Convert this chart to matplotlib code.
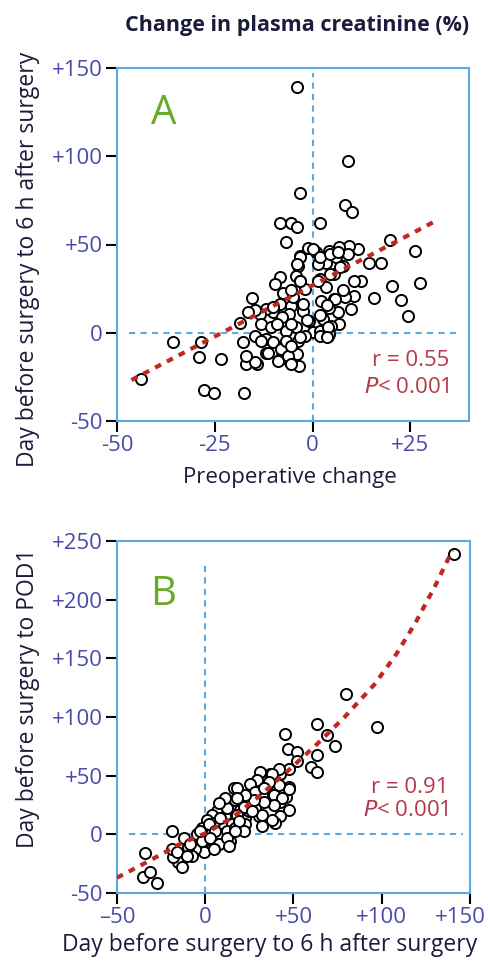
import matplotlib
matplotlib.use("Agg")
import matplotlib.pyplot as plt
from matplotlib.transforms import ScaledTranslation

plt.rcParams["font.family"] = ["Open Sans", "DejaVu Sans"]

# panel A: preoperative change vs day before surgery -> 6 h after surgery
a_x = [-4.1, 9.0, -3.2, 8.4, 10, -8.3, -5.5, -4.0, 1.8, -6.7, 19.8, 26.2, 27.5, 20.2, 22.6, 24.5,
       15.7, 17.5, 14.5, 12.5, 11.7, 9.4, 10.6, 9.8, 6.7, -15.4, -18.6, -17.7, -35.7, -28.4, -29.0,
       -23.3, -43.8, -27.8, -25.3, -17.6, -3.4, -4.1, -16.9, -14.3, -11.8, -8.4, -5.8, -12.9, -8.4,
       -9.6,
       -3.3, -1.2, 0.9, 4.3, 6.7, 9.0, 6.0, 3.5, 1.4, -3.7, -4.2, -7.6, -3.3, -2.0, 1.8, 3.5, 5.6,
       7.7, 10.7, 5.6, 8.2, 6.5, 4.3, 2.2, 2.6, 4.8, -0.8, -2.5, -5.4, -5.0, -8.4, -10.1, -11.8,
       -13.5, -14.8, -16.5, -13.1, -10.5, -7.1, -5.9, -4.2, -6.7, 0.1, 1.8, 3.9, -2.0, -11.8, -14.8,
       -13.1, -11.4, -14.8, -16.9, -10.1, -8.0, -8.9, -6.3, -5.4, -6.7, -3.7, -5.4, 1.8, 4.3,
       0.2, 1.9, 4.4, 6.6, 7.0, 4.4, 1.5, 7.8, 5.7, 3.6, 1.9, 4.0, 3.6, -3.2, -4.1, -3.2, -5.4,
       -2.4, -1.5, -5.4, -7.9, -3.2, -10.1, -9.2]
a_y = [139.4, 97.5, 79.2, 72.5, 68.3, 62.3, 62.3, 59.8, 62.3, 51.3, 52.3, 46.2, 28.3, 26.4, 18.7, 9.4,
       19.6, 39.4, 39.8, 29.6, 47.4, 49.2, 20.6, 13.6, 5.1, 19.6, 5.5, -5.3, -5.3, -5.3, -13.8,
       -15.1, -26.4, -32.3, -34.2, -34.2, -19.1, -11.9, -17.9, -17.5, -11.5, -15.1, -16.6, -4.3, 31.5,
       27.7,
       43.6, 48, 45.5, 46.5, 48.7, 44.6, 42.7, 39.8, 38.9, 38, 32.3, 22.8, 29.5, 24.8, 30.4, 25.7, 33.3,
       38.0, 29.5, 19.1, 20, 11.5, 14.3, 18.1, 7.8, 4, 6.8, 12.5, 15.3, 20, 16.3, 11.5, 13.4,
       10.6, 12.9, 11.5, 4.9, 3, 6.8, 10.6, 3, 1.1, 0.2, 1.1, -1.7, -1.7, -3.6, -1.7,
       -4.5, -11.2, -16.8, -13, -5.5, -9.2, -15.9, -13, -17.7, -4.5, -4.5, -7.4, -1.7, -0.7,
       47.5, 42.8, 44.7, 45.7, 37.2, 33.4, 29.6, 24, 19.2, 15.5, 9.8, 3.2, -2.5, 42.8, 39, 29.6, 24,
       16.4, 7, 5.1, 8.9, -2.5, 14.5, 5.1]
a_fit_x = [-46.3, 31.1]
a_fit_y = [-26.8, 62.9]

# panel B: 6 h after surgery vs POD1
b_x = [97.5, 63.1, 45.1, 68.7, 73.3, 46.8, 52.1, 52.1, 63.1, 59.7, 63.1, 47.4, 47.4, 47.4, 42.6, 39.8,
       42.6, 38.8, 45.5, 38.8, 42.6, 36.9, 31.3, 29.4, 35.1, 32.2, 26.5, 23.7, 28.4, 30.3, 22.7, 24.6,
       19.9, 19.9, 16.1, 12.3, 9.5, 6.6, 3.8, 0.9, 4.7, 11.4, 15.2, 19.9, 14.2, 8.5, 5.7, 12.3,
       -1.9, -4.7, -0.9, -0.9, -5.7, -9.5, -12.3, -12.3, -15.2, -18, -18.9, -18.9, -16.1, -7.6,
       -34.1, -35.0, -31.3, -27.5,
       79.5, 41.7, 37.9, 47.3, 41.7, 36, 29.4, 25.6, 28.4, 33.1, 43.6, 37.9, 32.2, 38.8, 33.1, 27.4,
       22.7, 18, 17, 21.8, 26.5, 18, 22.7, 32.2, 17,
       -13.2, -10.4, -8.5, -1.9, -2.8, 1.9, 5.7, 2.8, 7.6, 12.3, 13.3, 4.7, 8.5, 12.3, 18, 11.4,
       7.6, 18.9, 21.8, 17, 141]
b_y = [91.6, 94.4, 85.8, 84.4, 75.4, 72.6, 70.4, 62.8, 67.9, 57.3, 53.1, 56, 40.5, 20.9, 15.3, 9.7,
       27.9, 33.5, 32.1, 45.9, 51.5, 51.5, 53, 43.2, 41.8, 33.5, 36.3, 27.9, 22.3, 15.3, 13.9, 19.5,
       20.9, 30.7, 39.7, 27.9, 25.1, 19.5, 16.8, 12.6, 9.8, 15.3, 8.4, 5.6, -5.6, 0, -11.2, 2.8,
       5.6, 0, -5.6, -15.4, -12.6, -11.2, -2.8, -19.6, -23.8, -19.6, -12.6, 2.8, -15.4, -18.2,
       -16.2, -36.3, -32.1, -41.3,
       119.5, 55.3, 51.6, 39, 41.9, 44.7, 46.1, 43.3, 36.3, 39.1, 30.7, 12.6, 16.8, 25.1, 27.9, 29.3,
       33.5, 39.1, 29.3, 23.7, 19.5, 16.8, 8.4, 7, 5.6,
       -28, -18.2, -8.4, -5.6, 2.8, 8.4, 2.8, -2.8, -8.4, -2.8, -9.8, -12.6, 13.9, 22.3, 30.7, 30.7,
       26.5, 11.2, 2.8, 2.8, 239]
b_fit_x = [-50, -31, -14, 1, 16, 31, 46, 62, 79, 96, 108, 119, 130, 140]
b_fit_y = [-37, -22, -8, 1.5, 15, 33, 53, 75, 100, 128, 153, 180, 211, 242]

a_xticks = [-50, -25, 0, 25]
a_xlabels = ["-50", "-25", "0", "+25"]
a_yticks = [-50, 0, 50, 100, 150]
a_ylabels = ["-50", "0", "+50", "+100", "+150"]
b_xticks = [-50, 0, 50, 100, 150]
b_xlabels = ["\u201350", "0", "+50", "+100", "+150"]
b_yticks = [-50, 0, 50, 100, 150, 200, 250]
b_ylabels = ["-50", "0", "+50", "+100", "+150", "+200", "+250"]

spine_col = "#5aaae6"
tick_col = "#4a4aa8"
navy = "#1b1b3c"
red = "#c0281e"
stat_col = "#b33a4c"
green = "#6aaa2a"

W, H = 489, 965
fig = plt.figure(figsize=(W / 100, H / 100), dpi=100)
axA = fig.add_axes([117 / W, 1 - 421 / H, 352 / W, 353 / H])
axB = fig.add_axes([117 / W, 1 - 893 / H, 353 / W, 352 / H])


def style(ax, xt, xl, yt, yl):
    for s in ax.spines.values():
        s.set_color(spine_col)
        s.set_linewidth(1.5)
    ax.set_xticks(xt)
    ax.set_xticklabels(xl)
    ax.set_yticks(yt)
    ax.set_yticklabels(yl)
    ax.tick_params(direction="out", length=8, width=1.5, color="black",
                   labelcolor=tick_col, labelsize=16, pad=2)


def scatter(ax, x, y):
    ax.plot(x, y, "o", ms=8, mfc="white", mec="black", mew=1.4, ls="none", zorder=3)


# panel A
axA.plot([0, 0], [-50, 147], ls=(0, (3, 2.5)), color=spine_col, lw=1.5, zorder=1)
axA.plot([-47, 37], [0, 0], ls=(0, (3, 2.5)), color=spine_col, lw=1.5, zorder=1)
scatter(axA, a_x, a_y)
axA.plot(a_fit_x, a_fit_y, ls=(0, (1.6, 1.6)), color=red, lw=3, zorder=4)
axA.set_xlim(-50, 40)
axA.set_ylim(-50, 150)
style(axA, a_xticks, a_xlabels, a_yticks, a_ylabels)
axA.text(-38, 124, "A", color=green, fontsize=29, ha="center", va="center")
axA.text(35, -16, "r = 0.55", color=stat_col, fontsize=16, ha="right", va="center")
axA.text(35, -31, "$\\it{P}$< 0.001", color=stat_col, fontsize=16, ha="right", va="center")

# panel B
axB.plot([0, 0], [-50, 232], ls=(0, (3, 2.5)), color=spine_col, lw=1.5, zorder=1)
axB.plot([-43, 146], [0, 0], ls=(0, (3, 2.5)), color=spine_col, lw=1.5, zorder=1)
scatter(axB, b_x, b_y)
axB.plot(b_fit_x, b_fit_y, ls=(0, (1.6, 1.6)), color=red, lw=3, zorder=4)
axB.set_xlim(-50, 150)
axB.set_ylim(-50, 250)
style(axB, b_xticks, b_xlabels, b_yticks, b_ylabels)
# last x label pulled left so it stays inside the figure
last = axB.get_xticklabels()[-1]
last.set_transform(last.get_transform() + ScaledTranslation(-0.1, 0, fig.dpi_scale_trans))
axB.text(-24, 204, "B", color=green, fontsize=29, ha="center", va="center")
axB.text(138, 40, "r = 0.91", color=stat_col, fontsize=16, ha="right", va="center")
axB.text(138, 20, "$\\it{P}$< 0.001", color=stat_col, fontsize=16, ha="right", va="center")

# labels
fig.text(297 / W, 1 - 25 / H, "Change in plasma creatinine (%)", color=navy,
         fontsize=15.5, fontweight="bold", ha="center", va="center")
fig.text(28 / W, 1 - 259 / H, "Day before surgery to 6 h after surgery", color=navy,
         fontsize=16.5, rotation=90, ha="center", va="center")
fig.text(290 / W, 1 - 478 / H, "Preoperative change", color=navy,
         fontsize=16, ha="center", va="center")
fig.text(28 / W, 1 - 698 / H, "Day before surgery to POD1", color=navy,
         fontsize=16.5, rotation=90, ha="center", va="center")
fig.text(270 / W, 1 - 945 / H, "Day before surgery to 6 h after surgery", color=navy,
         fontsize=16.5, ha="center", va="center")

fig.savefig("out.png", dpi=100)
